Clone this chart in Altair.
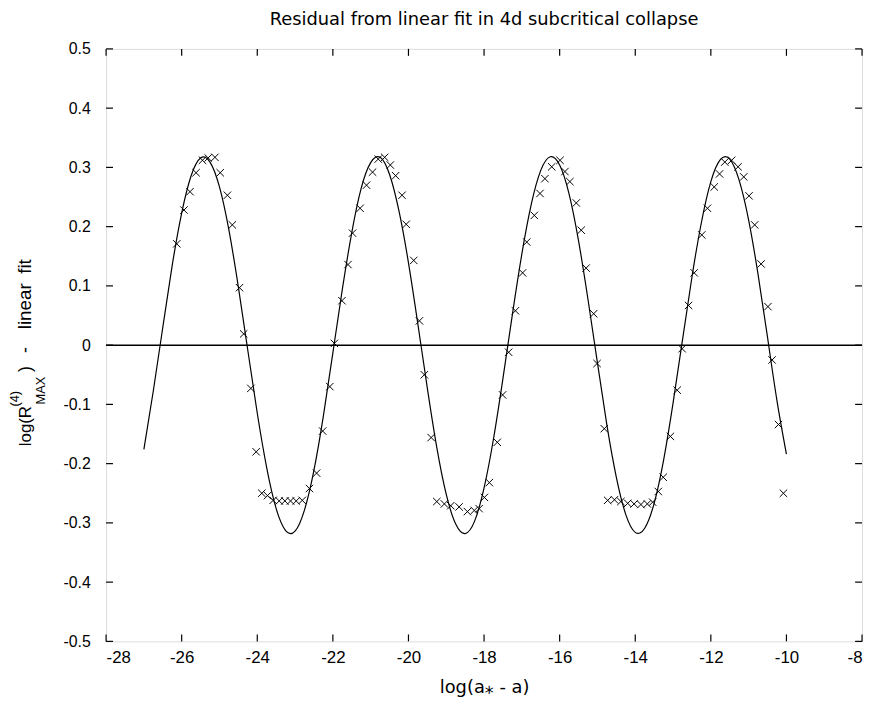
import altair as alt
import pandas as pd

# fitted curve (x every 0.25 from -27 to -10)
curve_x = [-27 + 0.25 * i for i in range(69)]
curve_y = [-0.176, -0.077, 0.030, 0.135, 0.223, 0.286, 0.316, 0.309, 0.267, 0.194,
           0.098, -0.009, -0.115, -0.207, -0.276, -0.313, -0.314, -0.278, -0.211, -0.119,
           -0.013, 0.094, 0.190, 0.265, 0.308, 0.317, 0.288, 0.226, 0.139, 0.035,
           -0.073, -0.173, -0.252, -0.302, -0.318, -0.297, -0.241, -0.158, -0.056, 0.052,
           0.154, 0.238, 0.295, 0.318, 0.304, 0.255, 0.176, 0.077, -0.030, -0.135,
           -0.223, -0.286, -0.316, -0.309, -0.267, -0.194, -0.098, 0.009, 0.115, 0.207,
           0.276, 0.313, 0.314, 0.278, 0.211, 0.119, 0.013, -0.094, -0.184]

# measured residuals (crosses)
pts_x = [-26.13, -25.94, -25.78, -25.62, -25.45, -25.30, -25.12, -24.98, -24.79, -24.66, -24.47, -24.36,
         -24.17, -24.03, -23.88, -23.73, -23.58, -23.42, -23.27, -23.12, -22.97, -22.81, -22.62, -22.43,
         -22.27, -22.08, -21.96,
         -21.76, -21.60, -21.48, -21.28, -21.11, -20.95, -20.80, -20.63, -20.48, -20.34, -20.17, -20.06,
         -19.86, -19.71,
         -19.58, -19.40, -19.25, -19.05, -18.88, -18.66, -18.44, -18.26, -18.13, -17.99, -17.86, -17.65,
         -17.51, -17.35,
         -17.17, -16.98, -16.87, -16.67, -16.52, -16.39, -16.21, -15.99, -15.86, -15.73, -15.56, -15.43,
         -15.30, -15.10,
         -15.01, -14.82, -14.73, -14.55, -14.38, -14.20, -14.03, -13.85, -13.68, -13.54, -13.39, -13.26,
         -13.07, -12.89, -12.76,
         -12.59, -12.44, -12.24, -12.09, -11.91, -11.77, -11.63, -11.45, -11.28, -11.13, -10.99, -10.84,
         -10.67, -10.49,
         -10.38, -10.21, -10.08]
pts_y = [0.171, 0.228, 0.259, 0.291, 0.312, 0.316, 0.317, 0.291, 0.253, 0.203, 0.097, 0.019,
         -0.073, -0.180, -0.250, -0.254, -0.262, -0.263, -0.263, -0.263, -0.263, -0.262, -0.242, -0.216,
         -0.145, -0.070, 0.003,
         0.075, 0.136, 0.189, 0.231, 0.270, 0.292, 0.314, 0.317, 0.304, 0.286, 0.253, 0.204,
         0.143, 0.041,
         -0.050, -0.156, -0.264, -0.268, -0.271, -0.273, -0.281, -0.279, -0.276, -0.257, -0.232, -0.164,
         -0.084, -0.012,
         0.058, 0.122, 0.174, 0.219, 0.256, 0.281, 0.301, 0.312, 0.293, 0.276, 0.240, 0.194,
         0.130, 0.053,
         -0.031, -0.141, -0.262, -0.261, -0.264, -0.267, -0.268, -0.269, -0.268, -0.265, -0.247, -0.223,
         -0.154, -0.076, -0.006,
         0.067, 0.122, 0.186, 0.231, 0.267, 0.289, 0.309, 0.312, 0.301, 0.284, 0.252, 0.203,
         0.137, 0.065,
         -0.025, -0.134, -0.250]

x_ticks = [-28, -26, -24, -22, -20, -18, -16, -14, -12, -10, -8]
y_ticks = [-0.5, -0.4, -0.3, -0.2, -0.1, 0.0, 0.1, 0.2, 0.3, 0.4, 0.5]

TITLE = "Residual from linear fit in 4d subcritical collapse"
XTITLE = "log(a\u204e - a)"

W, H = 763, 598
FONT = "Liberation Sans"
TL = 7  # inward tick length

curve = pd.DataFrame({"x": curve_x, "y": curve_y})
pts = pd.DataFrame({"x": pts_x, "y": pts_y})
xt = pd.DataFrame({"x": x_ticks})
yt = pd.DataFrame({"y": y_ticks})

xs = alt.Scale(domain=[-28, -8], nice=False, zero=False)
ys = alt.Scale(domain=[-0.5, 0.5], nice=False, zero=False)

x_axis = alt.Axis(values=x_ticks, ticks=False, domain=False, grid=False,
                  labelExpr="(datum.value < 0 ? '-' : '') + format(abs(datum.value), 'd')",
                  labelFont=FONT, labelFontSize=17, labelColor="black", labelPadding=8,
                  title=XTITLE, titleFont="DejaVu Sans", titleFontSize=18,
                  titleFontWeight="normal", titleColor="black", titlePadding=14)
y_axis = alt.Axis(values=y_ticks, ticks=False, domain=False, grid=False,
                  labelExpr="datum.value == 0 ? '0' : (datum.value < 0 ? '-' : '') + format(abs(datum.value), '.1f')",
                  labelFont=FONT, labelFontSize=16, labelColor="black", labelPadding=16,
                  title=None)

X = alt.X("x:Q", scale=xs, axis=x_axis)
Y = alt.Y("y:Q", scale=ys, axis=y_axis)

line = alt.Chart(curve).mark_line(color="black", strokeWidth=1.2, interpolate="natural").encode(x=X, y=Y)

zero = alt.Chart(pd.DataFrame({"y": [0.0]})).mark_rule(color="black", strokeWidth=1.5).encode(y=Y)

cross = alt.Chart(pts).mark_point(shape="M-1,-1L1,1M-1,1L1,-1", filled=False, color="black",
                                  strokeWidth=1, size=56, opacity=1).encode(x=X, y=Y)

tb = alt.Chart(xt).mark_rule(color="black", strokeWidth=1.2).encode(x=X, y=alt.value(H), y2=alt.value(H - TL))
tt = alt.Chart(xt).mark_rule(color="black", strokeWidth=1.2).encode(x=X, y=alt.value(0), y2=alt.value(TL))
tl = alt.Chart(yt).mark_rule(color="black", strokeWidth=1.2).encode(y=Y, x=alt.value(0), x2=alt.value(TL))
tr = alt.Chart(yt).mark_rule(color="black", strokeWidth=1.2).encode(y=Y, x=alt.value(W), x2=alt.value(W - TL))


def ytext(txt, x, y, size):
    return alt.Chart(pd.DataFrame({"t": [txt]})).mark_text(
        angle=270, align="left", baseline="alphabetic", font=FONT, fontSize=size, color="black"
    ).encode(text="t:N", x=alt.value(x), y=alt.value(y))


# y-axis title pieces: log(R^(4)_MAX) - linear fit
ylabel = [
    ytext("log(R", -76, 401, 17),
    ytext("(4)", -88, 361, 13),
    ytext("MAX", -62, 359, 13),
    ytext(")", -76, 326, 18),
    ytext("-", -76, 307, 18),
    ytext("linear", -76, 283, 19),
    ytext("fit", -76, 227, 19),
]

chart = alt.layer(line, zero, cross, tb, tt, tl, tr, *ylabel).properties(
    width=W, height=H,
    title=alt.TitleParams(TITLE, font="DejaVu Sans", fontSize=18, fontWeight="normal",
                          color="black", offset=12),
    autosize=alt.AutoSizeParams(type="none"),
    padding={"left": 99, "top": 38, "right": 4, "bottom": 68},
).configure_view(stroke="black", strokeWidth=1.5).configure(background="white")

chart.save("out.html", embed_options={"renderer": "svg", "actions": False})
